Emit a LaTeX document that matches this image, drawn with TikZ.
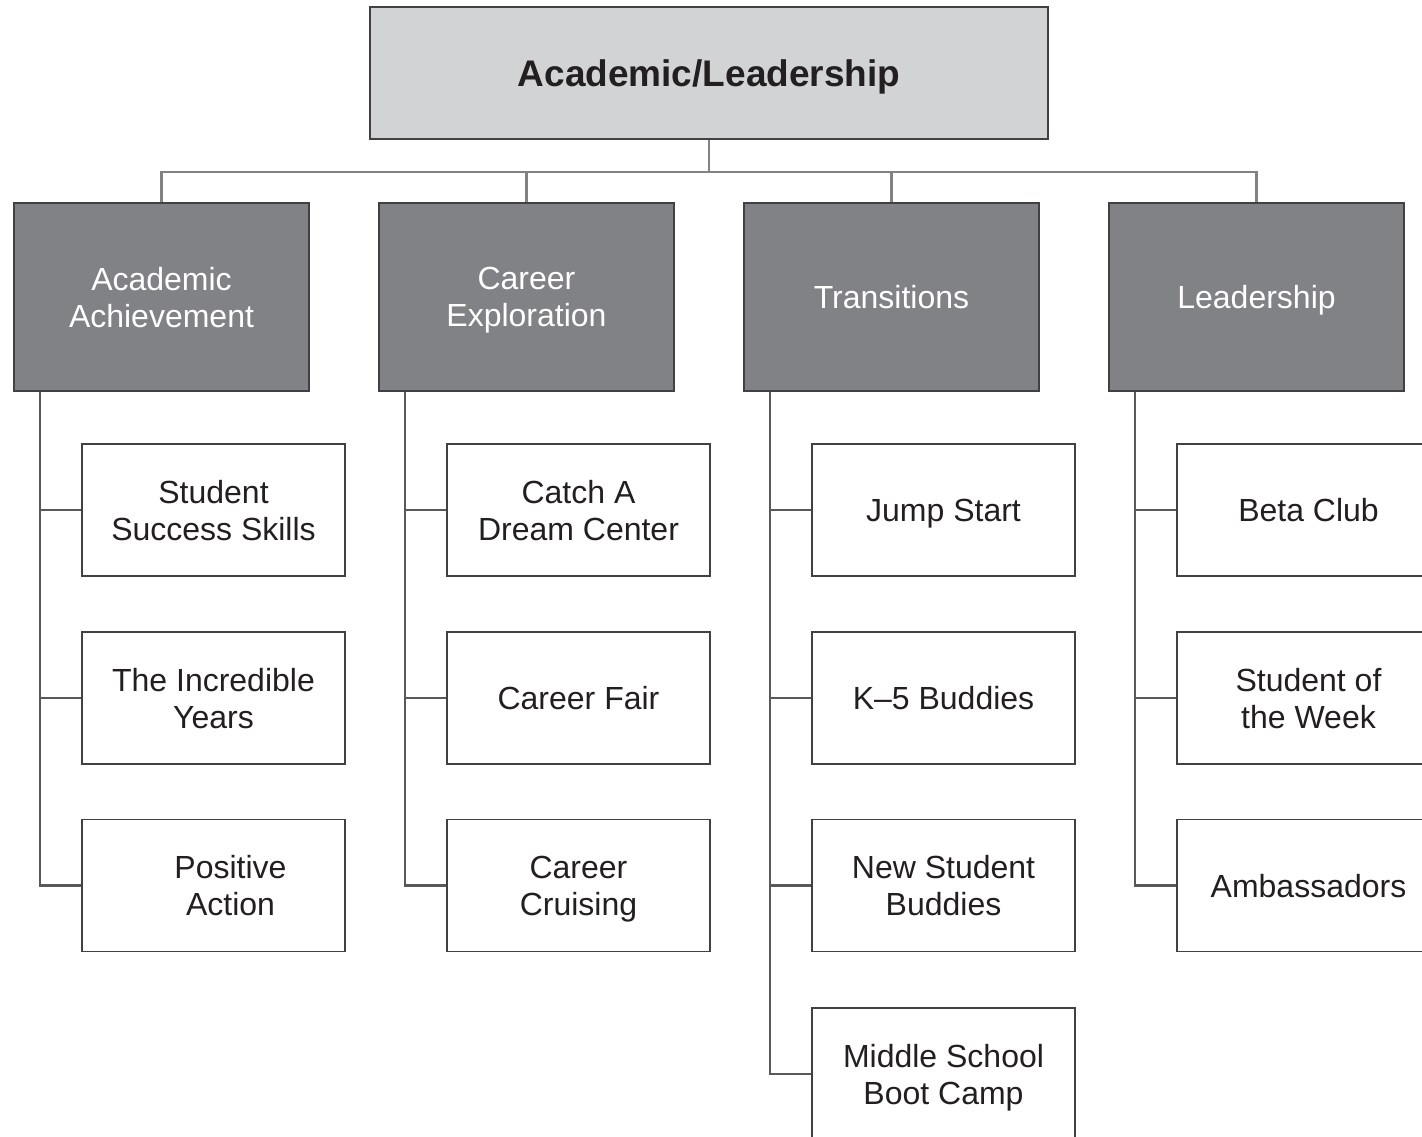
\documentclass[tikz,border=0pt]{standalone}
\usepackage{fontspec}
\setmainfont{Liberation Sans}
\usetikzlibrary{calc}
\definecolor{topfill}{HTML}{D1D3D4}
\definecolor{catfill}{HTML}{808285}
\definecolor{edge}{HTML}{414042}
\definecolor{wire}{HTML}{808285}
\definecolor{spine}{HTML}{58595B}
\definecolor{ink}{HTML}{231F20}
\begin{document}
\begin{tikzpicture}[x=0.5pt,y=-0.5pt,
  topbox/.style={draw=edge,line width=0.8pt,fill=topfill,minimum width=339pt,minimum height=66pt,inner sep=0pt,
    text depth=0pt,font=\bfseries\fontsize{18.5}{22}\selectfont,text=ink},
  catbox/.style={draw=edge,line width=0.8pt,fill=catfill,minimum width=147.5pt,minimum height=94pt,inner sep=0pt,
    text depth=0pt,align=center,font=\fontsize{16}{18.5}\selectfont,text=white},
  kidbox/.style={draw=edge,line width=0.75pt,fill=white,minimum width=131.5pt,minimum height=66pt,inner sep=0pt,
    text depth=0pt,align=center,font=\fontsize{16}{18.5}\selectfont,text=ink},
  kidtext/.style={align=center,font=\fontsize{16}{18.5}\selectfont,text=ink,inner sep=0pt,text depth=0pt},
  busline/.style={draw=wire,line width=1.1pt},
  spline/.style={draw=spine,line width=1.1pt}]
\useasboundingbox (0,0) rectangle (1422,1136);
\clip (0,0) rectangle (1422,1136);
\fill[white] (0,0) rectangle (1422,1136);

\node[topbox] (top) at (709,73) {Academic/Leadership};

\node[catbox] (c1) at (161.5,297) {Academic\\Achievement};
\node[catbox] (c2) at (526.5,297) {Career\\Exploration};
\node[catbox] (c3) at (891.5,297) {Transitions};
\node[catbox] (c4) at (1256.5,297) {Leadership};

\coordinate (bus) at (709,172);
\draw[busline] (top.south) -- (top.south |- bus);
\draw[busline] (c1.north) |- (c4.north |- bus) -- (c4.north);
\draw[busline] (c2.north) -- (c2.north |- bus);
\draw[busline] (c3.north) -- (c3.north |- bus);

% children
\node[kidbox] (k11) at (213.5,510) {Student\\Success Skills};
\node[kidbox] (k12) at (213.5,698) {The Incredible\\Years};
\node[kidbox] (k13) at (213.5,885.5) {};
\node[kidtext] (t13) at ([xshift=8.5pt]k13.center) {Positive\\Action};

\node[kidbox] (k21) at (578.5,510) {Catch A\\Dream Center};
\node[kidbox] (k22) at (578.5,698) {Career Fair};
\node[kidbox] (k23) at (578.5,885.5) {Career\\Cruising};

\node[kidbox] (k31) at (943.5,510) {Jump Start};
\node[kidbox] (k32) at (943.5,698) {K–5 Buddies};
\node[kidbox] (k33) at (943.5,885.5) {New Student\\Buddies};
\node[kidbox] (k34) at (943.5,1074) {Middle School\\Boot Camp};

\node[kidbox] (k41) at (1308.5,510) {Beta Club};
\node[kidbox] (k42) at (1308.5,698) {Student of\\the Week};
\node[kidbox] (k43) at (1308.5,885.5) {Ambassadors};

% spines
\coordinate (s1) at ($(c1.south west)+(27,0)$);
\coordinate (s2) at ($(c2.south west)+(27,0)$);
\coordinate (s3) at ($(c3.south west)+(27,0)$);
\coordinate (s4) at ($(c4.south west)+(27,0)$);

\draw[spline] (s1) |- (k13.west);
\draw[spline] (k11.west) -- (k11.west -| s1);
\draw[spline] (k12.west) -- (k12.west -| s1);

\draw[spline] (s2) |- (k23.west);
\draw[spline] (k21.west) -- (k21.west -| s2);
\draw[spline] (k22.west) -- (k22.west -| s2);

\draw[spline] (s3) |- (k34.west);
\draw[spline] (k31.west) -- (k31.west -| s3);
\draw[spline] (k32.west) -- (k32.west -| s3);
\draw[spline] (k33.west) -- (k33.west -| s3);

\draw[spline] (s4) |- (k43.west);
\draw[spline] (k41.west) -- (k41.west -| s4);
\draw[spline] (k42.west) -- (k42.west -| s4);
\end{tikzpicture}
\end{document}
